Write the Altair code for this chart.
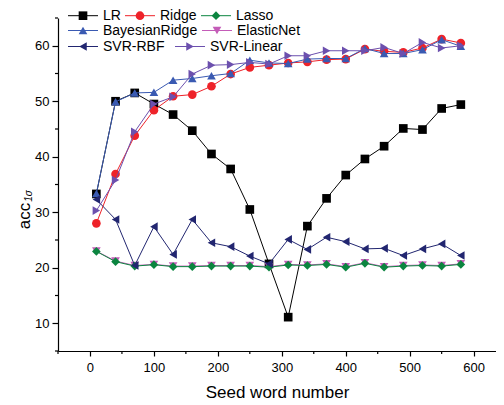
import altair as alt
import pandas as pd

seed_words = [10, 40, 70, 100, 130, 160, 190, 220, 250, 280, 310, 340, 370, 400, 430, 460, 490, 520, 550, 580]

lr = [33.3, 50.0, 51.5, 49.5, 47.6, 44.7, 40.5, 37.8, 30.5, 20.7, 11.1, 27.5, 32.5, 36.7, 39.6, 41.9, 45.1, 44.9, 48.7, 49.4]
ridge = [28.0, 36.9, 43.8, 48.4, 50.9, 51.2, 52.7, 54.9, 56.1, 56.5, 56.9, 57.1, 57.5, 57.6, 59.4, 59.0, 58.8, 59.6, 61.2, 60.5]
lasso = [22.95, 21.1, 20.3, 20.55, 20.2, 20.2, 20.3, 20.3, 20.3, 20.1, 20.5, 20.4, 20.6, 20.1, 20.8, 20.1, 20.3, 20.4, 20.3, 20.6]
elasticnet = [23.0, 21.2, 20.4, 20.6, 20.3, 20.3, 20.4, 20.4, 20.4, 20.2, 20.6, 20.5, 20.7, 20.2, 20.9, 20.2, 20.4, 20.5, 20.4, 20.7]
bayesian = [33.4, 49.9, 51.5, 51.6, 53.8, 54.1, 54.6, 55.0, 57.4, 56.9, 56.8, 57.6, 57.7, 57.7, 59.5, 58.6, 58.6, 59.3, 61.1, 59.9]
svr_rbf = [32.3, 28.7, 20.4, 27.4, 22.4, 28.7, 24.5, 23.8, 22.1, 20.7, 25.1, 23.3, 25.5, 24.7, 23.4, 23.5, 22.2, 23.4, 24.3, 22.2]
svr_linear = [30.3, 35.8, 44.5, 49.5, 50.8, 54.9, 56.5, 56.6, 57.0, 56.7, 58.2, 58.2, 59.1, 59.1, 59.1, 59.7, 58.6, 60.6, 59.6, 60.0]

x_major = [0, 100, 200, 300, 400, 500, 600]
x_minor = [-50, 50, 150, 250, 350, 450, 550]
y_major = [10, 20, 30, 40, 50, 60]
y_minor = [5, 15, 25, 35, 45, 55, 65]

FONT = "Liberation Sans"
W, H = 438, 333

# name, values, color, shape
series = [
    ("LR", lr, "#000000", "square"),
    ("Ridge", ridge, "#ee2229", "circle"),
    ("ElasticNet", elasticnet, "#c45cb8", "triangle-down"),
    ("Lasso", lasso, "#0c8540", "diamond"),
    ("BayesianRidge", bayesian, "#3a5ab2", "triangle-up"),
    ("SVR-RBF", svr_rbf, "#222670", "triangle-left"),
    ("SVR-Linear", svr_linear, "#6c50ae", "triangle-right"),
]

xscale = alt.Scale(domain=[-50, 635], nice=False, zero=False)
yscale = alt.Scale(domain=[5, 65], nice=False, zero=False)

xaxis = alt.Axis(values=x_major, title="Seed word number", grid=False, tickSize=5,
                 labelFontSize=13, labelFont=FONT, labelPadding=5, titleFont=FONT,
                 titleFontSize=17, titleFontWeight="normal", titlePadding=10,
                 domainColor="black", tickColor="black", labelColor="black",
                 titleColor="black", domainWidth=1.2, tickWidth=1.2)
yaxis = alt.Axis(values=y_major, title=None, grid=False, tickSize=6,
                 labelFontSize=13, labelFont=FONT, labelPadding=3,
                 domainColor="black", tickColor="black", labelColor="black",
                 domainWidth=1.2, tickWidth=1.2)

layers = []
for i, (name, vals, color, shape) in enumerate(series):
    df = pd.DataFrame({"x": seed_words, "y": vals})
    base = alt.Chart(df)
    enc = dict(x=alt.X("x:Q", scale=xscale, axis=xaxis),
               y=alt.Y("y:Q", scale=yscale, axis=yaxis))
    line = base.mark_line(color=color, strokeWidth=1).encode(**enc)
    pts = base.mark_point(shape=shape, filled=True, color=color, size=75, opacity=1).encode(**enc)
    layers += [line, pts]

# minor ticks
xm = alt.Chart(pd.DataFrame({"x": x_minor})).mark_rule(color="black", strokeWidth=1.2).encode(
    x=alt.X("x:Q", scale=xscale, axis=xaxis), y=alt.value(H), y2=alt.value(H + 3))
ym = alt.Chart(pd.DataFrame({"y": y_minor})).mark_rule(color="black", strokeWidth=1.2).encode(
    y=alt.Y("y:Q", scale=yscale, axis=yaxis), x=alt.value(-3), x2=alt.value(0))
layers += [xm, ym]

# y title with subscript
one = pd.DataFrame({"a": [0]})
layers.append(alt.Chart(one).mark_text(text="acc", angle=270, font=FONT, fontSize=17,
                                       align="center", baseline="middle", color="black").encode(
    x=alt.value(-33), y=alt.value(198)))
layers.append(alt.Chart(one).mark_text(text="1σ", angle=270, font=FONT, fontSize=10, fontStyle="italic",
                                       align="center", baseline="middle", color="black").encode(
    x=alt.value(-29.5), y=alt.value(178)))

# manual legend (page coords converted to plot coords: minus 58, 18)
legend_entries = [
    ("LR", 68, -2.3), ("Ridge", 125, -2.3), ("Lasso", 201, -2.3),
    ("BayesianRidge", 68, 12.5), ("ElasticNet", 202, 12.5),
    ("SVR-RBF", 68, 28.5), ("SVR-Linear", 175, 28.5),
]
style = {name: (color, shape) for name, _, color, shape in series}
for name, px, py in legend_entries:
    color, shape = style[name]
    x0 = px - 58
    layers.append(alt.Chart(one).mark_rule(color=color, strokeWidth=1).encode(
        x=alt.value(x0), x2=alt.value(x0 + 30), y=alt.value(py)))
    layers.append(alt.Chart(one).mark_point(shape=shape, filled=True, color=color, size=75, opacity=1).encode(
        x=alt.value(x0 + 15), y=alt.value(py)))
    layers.append(alt.Chart(one).mark_text(text=name, font=FONT, fontSize=14, align="left",
                                           baseline="middle", color="black").encode(
        x=alt.value(x0 + 35), y=alt.value(py)))

chart = alt.layer(*layers).properties(
    width=W, height=H,
    autosize=alt.AutoSizeParams(type="none"),
    padding={"left": 50, "top": 10, "right": 0, "bottom": 52},
).configure_view(stroke=None)

chart.save("out.html", embed_options={"renderer": "svg", "actions": False})
